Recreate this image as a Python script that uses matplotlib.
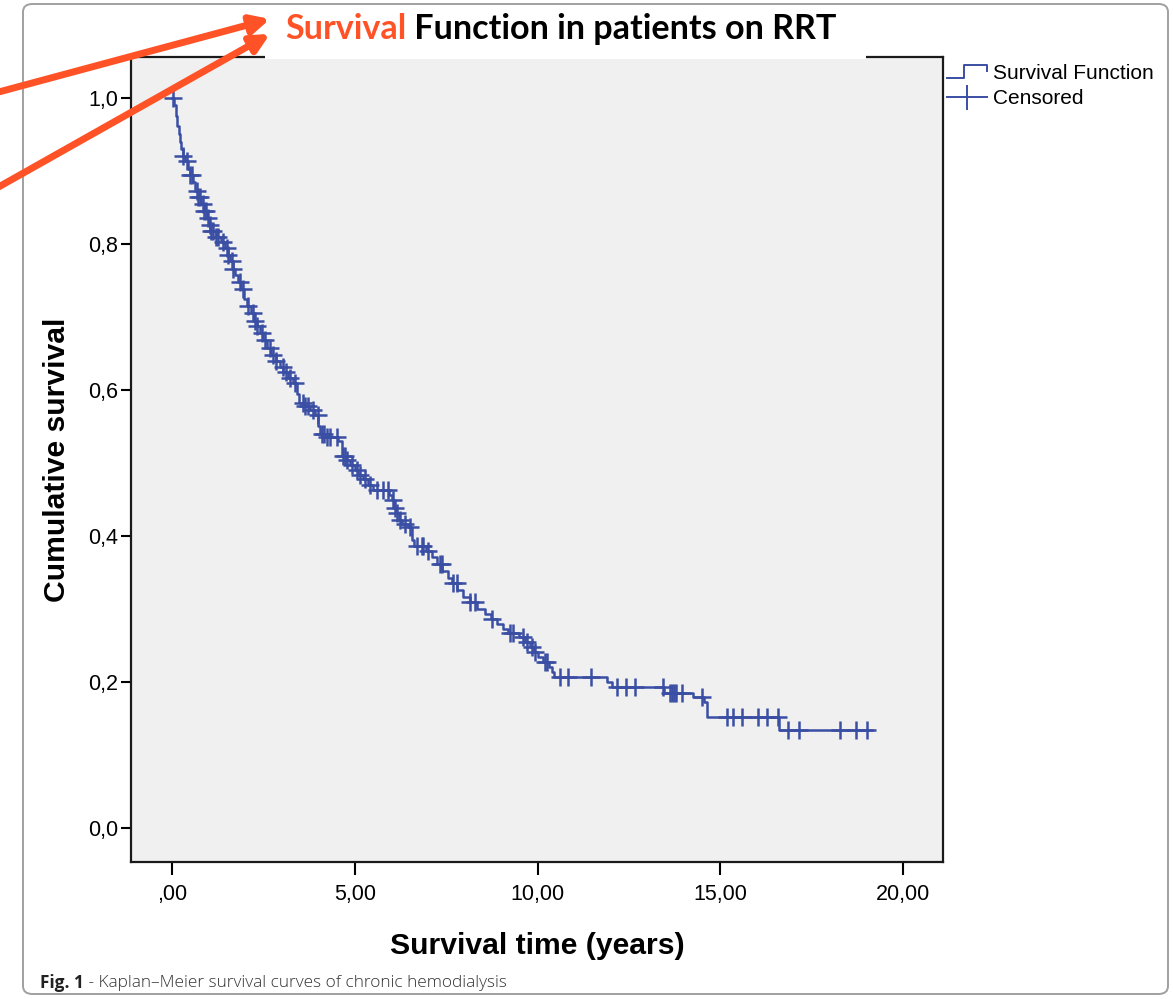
import numpy as np
import matplotlib
matplotlib.use('Agg')
import matplotlib.pyplot as plt
from matplotlib.lines import Line2D
from matplotlib.text import Annotation
from matplotlib.patches import Rectangle, FancyArrowPatch, FancyBboxPatch
from matplotlib.legend_handler import HandlerBase

# Kaplan-Meier steps (time in years, survival after the event)
event_time = [0.00, 0.06, 0.10, 0.14, 0.18, 0.22, 0.26, 0.29, 0.36, 0.44, 0.50, 0.58,
              0.64, 0.70, 0.80, 0.88, 0.95, 1.00, 1.05, 1.20, 1.35, 1.45, 1.52, 1.60,
              1.66, 1.72, 1.80, 1.88, 1.96, 2.05, 2.15, 2.25, 2.32, 2.40, 2.50, 2.60,
              2.70, 2.85, 2.95, 3.05, 3.18, 3.30, 3.42, 3.48, 3.62, 3.78, 3.92, 4.00,
              4.05, 4.20, 4.55, 4.66, 4.75, 4.88, 5.00, 5.10, 5.22, 5.35, 5.50, 5.95,
              6.02, 6.08, 6.13, 6.20, 6.30, 6.45, 6.56, 6.62, 6.95, 7.10, 7.25, 7.40,
              7.55, 7.65, 7.80, 7.95, 8.15, 8.35, 8.55, 8.72, 8.90, 9.05, 9.20, 9.50,
              9.65, 9.78, 9.90, 10.02, 10.15, 10.30, 10.40, 10.45, 11.90, 12.03, 13.45,
              14.25, 14.55, 14.63, 16.60]
event_surv = [1.000, 0.990, 0.975, 0.962, 0.950, 0.940, 0.930, 0.921, 0.913, 0.902, 0.895, 0.885,
              0.872, 0.864, 0.855, 0.845, 0.835, 0.826, 0.818, 0.810, 0.802, 0.795, 0.785, 0.776,
              0.766, 0.757, 0.748, 0.738, 0.725, 0.715, 0.705, 0.695, 0.688, 0.678, 0.668, 0.658,
              0.648, 0.640, 0.632, 0.624, 0.617, 0.610, 0.595, 0.582, 0.578, 0.572, 0.566, 0.550,
              0.540, 0.536, 0.530, 0.510, 0.504, 0.497, 0.490, 0.483, 0.478, 0.470, 0.463, 0.456,
              0.449, 0.438, 0.431, 0.422, 0.417, 0.412, 0.395, 0.386, 0.380, 0.371, 0.362, 0.352,
              0.343, 0.336, 0.326, 0.317, 0.309, 0.300, 0.293, 0.286, 0.279, 0.272, 0.267, 0.262,
              0.255, 0.248, 0.241, 0.234, 0.227, 0.220, 0.213, 0.207, 0.200, 0.193, 0.185,
              0.179, 0.172, 0.152, 0.134]
last_followup = 19.15

censored_time = [0.03, 0.30, 0.41, 0.50, 0.55, 0.68, 0.72, 0.77, 0.85, 0.88, 0.93, 0.98,
                 1.04, 1.08, 1.12, 1.20, 1.26, 1.40, 1.50, 1.53, 1.64, 1.67, 1.86, 1.94,
                 2.08, 2.22, 2.28, 2.33, 2.46, 2.54, 2.68, 2.76, 2.85, 3.04, 3.12, 3.23,
                 3.36, 3.58, 3.65, 3.72, 3.86, 3.99, 4.10, 4.15, 4.24, 4.32, 4.51, 4.68,
                 4.72, 4.79, 4.92, 5.06, 5.14, 5.28, 5.42, 5.61, 5.77, 5.91, 6.04, 6.10,
                 6.15, 6.24, 6.37, 6.51, 6.70, 6.84, 6.87, 7.00, 7.33, 7.38, 7.69, 7.79,
                 8.15, 8.29, 8.75, 9.24, 9.33, 9.60, 9.71, 9.85, 9.93, 10.20, 10.26,
                 10.62, 10.83, 11.46, 12.17, 12.42, 12.66, 13.43, 13.62, 13.68, 13.73,
                 13.80, 13.95, 14.50, 15.18, 15.35, 15.59, 16.03, 16.27, 16.58, 16.85,
                 17.15, 18.27, 18.70, 19.00]

x_ticks = [0, 5, 10, 15, 20]
x_tick_labels = [',00', '5,00', '10,00', '15,00', '20,00']
y_ticks = [0.0, 0.2, 0.4, 0.6, 0.8, 1.0]
y_tick_labels = ['0,0', '0,2', '0,4', '0,6', '0,8', '1,0']

blue = '#3A4EA3'
orange = '#FF5226'


class StepHandler(HandlerBase):
    # little step icon like the SPSS legend
    def create_artists(self, legend, orig_handle, xdescent, ydescent,
                       width, height, fontsize, trans):
        x0 = -xdescent
        xs = [x0, x0 + 0.42 * width, x0 + 0.42 * width, x0 + width, x0 + width]
        ys = [0.1 * height, 0.1 * height, 0.95 * height, 0.95 * height, 0.55 * height]
        ln = Line2D(xs, ys, color=orig_handle.get_color(), lw=orig_handle.get_linewidth())
        ln.set_transform(trans)
        return [ln]


W, H = 1173, 999
fig = plt.figure(figsize=(W / 100, H / 100), dpi=100)
ax = fig.add_axes([131 / W, 1 - 862 / H, (943 - 131) / W, (862 - 57) / H])
ax.set_facecolor('#F0F0F0')

t = np.array(event_time + [last_followup])
s = np.array(event_surv + [event_surv[-1]])
ax.step(t, s, where='post', color=blue, lw=1.8, zorder=3)

ct = np.array(censored_time)
idx = np.searchsorted(np.array(event_time), ct, side='right') - 1
cs = np.array(event_surv)[idx]
ax.plot(ct, cs, ls='none', marker='+', ms=13, mew=1.8, color=blue, zorder=4)

ax.set_xlim(-1.12, 21.09)
ax.set_ylim(-0.0466, 1.056)
ax.set_xticks(x_ticks)
ax.set_xticklabels(x_tick_labels)
ax.set_yticks(y_ticks)
ax.set_yticklabels(y_tick_labels)
for sp in ax.spines.values():
    sp.set_linewidth(1.6)
    sp.set_color('#1a1a1a')
ax.tick_params(axis='y', length=7.5, width=1.5, pad=2, labelsize=15.5)
ax.tick_params(axis='x', length=9, width=1.5, pad=7, labelsize=15.5)
for lab in ax.get_xticklabels() + ax.get_yticklabels():
    lab.set_fontfamily('Liberation Sans')
ax.set_xlabel('Survival time (years)', fontsize=21.7, fontweight='bold',
              family='Liberation Sans', labelpad=19)
ax.set_ylabel('Cumulative survival', fontsize=21.7, fontweight='bold',
              family='Liberation Sans', labelpad=12)

# legend outside the plot, top right
h1 = Line2D([], [], color=blue, lw=1.4)
h2 = Line2D([], [], color=blue, lw=1.4, marker='|', ms=18, mew=1.4)
fig.legend([h1, h2], ['Survival Function', 'Censored'], loc='upper left',
           bbox_to_anchor=(947 / W, 1 - 64 / H), frameon=False,
           handler_map={h1: StepHandler()}, handlelength=1.9, handletextpad=0.3,
           borderpad=0, borderaxespad=0, labelspacing=0.31,
           prop={'family': 'Liberation Sans', 'size': 15})

# rounded frame around the whole thing
frame = FancyBboxPatch((23 / W, 5 / H), (1168 - 23) / W, (995 - 5) / H,
                       boxstyle='round,pad=0,rounding_size=0.008',
                       transform=fig.transFigure, fc='none', ec='#A0A0A0', lw=1.4)
fig.add_artist(frame)

# white box behind the title, hides part of the top spine
fig.add_artist(Rectangle((265 / W, 1 - 58.5 / H), (866 - 265) / W, (58.5 - 8) / H,
                         transform=fig.transFigure, fc='white', ec='none', zorder=5))
t1 = fig.text(285 / W, 1 - 29 / H, 'Survival', color=orange, fontsize=24.6,
              fontweight='bold', family='Lato', va='center', zorder=6)
t2 = Annotation(' Function in patients on RRT', xy=(1, 0.5), xycoords=t1,
                va='center', ha='left', color='black', fontsize=24.6, fontweight='bold',
                family='Lato', annotation_clip=False)
t2.set_zorder(6)
fig.add_artist(t2)

# arrows pointing at the title
for y0, y1 in [(93, 19), (189, 34)]:
    arr = FancyArrowPatch((-5 / W, 1 - y0 / H), (270 / W, 1 - y1 / H),
                          transform=fig.transFigure, arrowstyle='-|>',
                          mutation_scale=27, lw=5, color=orange, zorder=7,
                          shrinkA=0, shrinkB=0)
    fig.add_artist(arr)

# caption
c1 = fig.text(40 / W, 1 - 983 / H, 'Fig. 1', fontsize=12.4, fontweight='bold',
              family='Open Sans', va='center', color='#222222')
c2 = Annotation(' - Kaplan\u2013Meier survival curves of chronic hemodialysis', xy=(1, 0.5),
                xycoords=c1, va='center', ha='left', fontsize=12.4, fontweight='light',
                family='Open Sans', color='#333333', annotation_clip=False)
fig.add_artist(c2)

fig.savefig('out.png', dpi=100)
